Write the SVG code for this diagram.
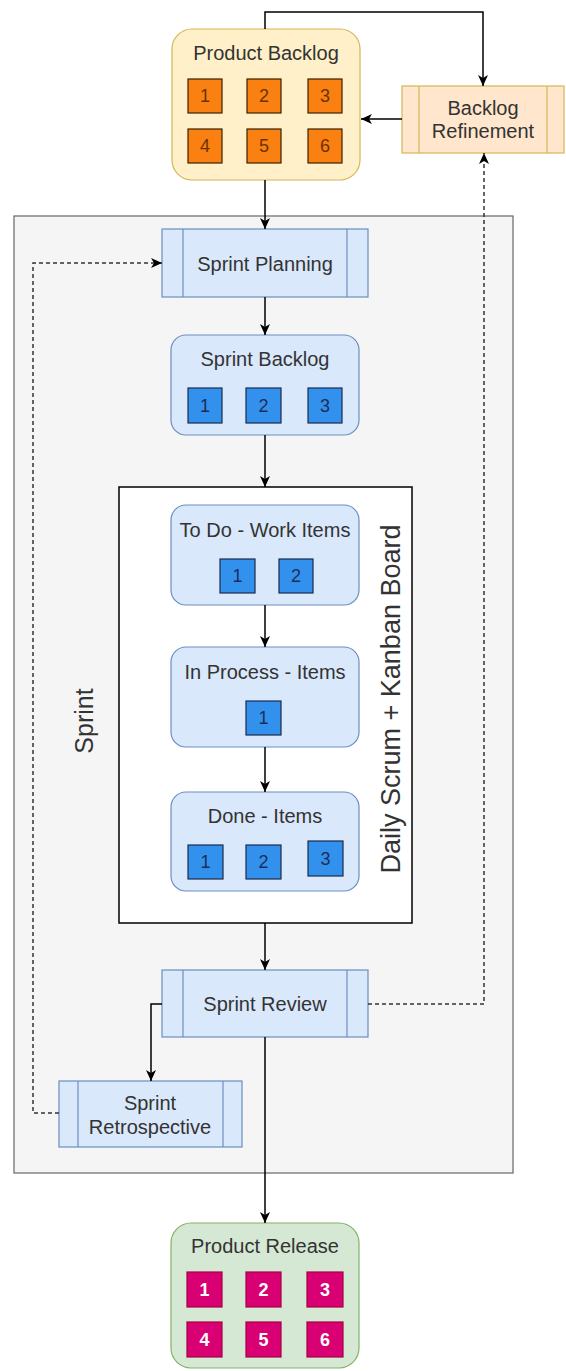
<svg xmlns="http://www.w3.org/2000/svg" width="566" height="1371" viewBox="0 0 566 1371">
<style>
text{font-family:"Liberation Sans",Arial,sans-serif;fill:#333;}
.t{font-size:20px;text-anchor:middle;dominant-baseline:central;}
.n{font-size:18px;text-anchor:middle;dominant-baseline:central;}
.blue{fill:#dae8fc;stroke:#6c8ebf;stroke-width:1.2;}
.bq{fill:#3391ee;stroke:#1b2a4a;stroke-width:1.2;}
.bn{fill:#1c2d5a;}
.oq{fill:#fa8011;stroke:#3a2200;stroke-width:1.2;}
.on{fill:#6a3300;}
.mq{fill:#d80073;stroke:#a50040;stroke-width:1.2;}
.mn{fill:#ffffff;font-weight:bold;}
.e{fill:none;stroke:#000;stroke-width:1.5;}
.d{fill:none;stroke:#333;stroke-width:1.5;stroke-dasharray:4 3;}
</style>
<defs>
<marker id="arr" viewBox="0 0 11 10" refX="11" refY="5" markerWidth="11" markerHeight="10" orient="auto" markerUnits="userSpaceOnUse">
<path d="M0,0 L11,5 L0,10 L3,5 Z" fill="#000"/>
</marker>
</defs>

<g id="sprint">
<rect x="14" y="216" width="499" height="957" fill="#f5f5f5" stroke="#666" stroke-width="1.2"/>
<text transform="translate(93,721) rotate(-90)" font-size="25" text-anchor="middle">Sprint</text>
</g>

<g id="board">
<rect x="119" y="487" width="293" height="436" fill="#fff" stroke="#000" stroke-width="1.5"/>
<text transform="translate(400,699) rotate(-90)" font-size="27" text-anchor="middle">Daily Scrum + Kanban Board</text>
</g>

<g id="product-backlog">
<rect x="172" y="29" width="188" height="151" rx="20" fill="#fff0c9" stroke="#d6b656" stroke-width="1.2"/>
<text class="t" x="266" y="53">Product Backlog</text>
<rect class="oq" x="188" y="79" width="34" height="34"/><text class="n on" x="205" y="96">1</text>
<rect class="oq" x="247" y="79" width="34" height="34"/><text class="n on" x="264" y="96">2</text>
<rect class="oq" x="308" y="79" width="34" height="34"/><text class="n on" x="325" y="96">3</text>
<rect class="oq" x="188" y="129" width="34" height="34"/><text class="n on" x="205" y="146">4</text>
<rect class="oq" x="247" y="129" width="34" height="34"/><text class="n on" x="264" y="146">5</text>
<rect class="oq" x="308" y="129" width="34" height="34"/><text class="n on" x="325" y="146">6</text>
</g>

<g id="backlog-refinement">
<rect x="402" y="86" width="162" height="67" fill="#ffe6cc" stroke="#d6b656" stroke-width="1.2"/>
<line x1="419" y1="86" x2="419" y2="153" stroke="#d6b656" stroke-width="1.2"/>
<line x1="547" y1="86" x2="547" y2="153" stroke="#d6b656" stroke-width="1.2"/>
<text class="t" x="483" y="108">Backlog</text>
<text class="t" x="483" y="131">Refinement</text>
</g>

<g id="sprint-planning">
<rect class="blue" x="162" y="229" width="206" height="68"/>
<line x1="183" y1="229" x2="183" y2="297" stroke="#6c8ebf" stroke-width="1.2"/>
<line x1="347" y1="229" x2="347" y2="297" stroke="#6c8ebf" stroke-width="1.2"/>
<text class="t" x="265" y="264">Sprint Planning</text>
</g>

<g id="sprint-backlog">
<rect class="blue" x="171" y="335" width="188" height="100" rx="15"/>
<text class="t" x="265" y="359">Sprint Backlog</text>
<rect class="bq" x="188" y="388" width="34" height="35"/><text class="n bn" x="205" y="405.5">1</text>
<rect class="bq" x="246" y="388" width="35" height="35"/><text class="n bn" x="263.5" y="405.5">2</text>
<rect class="bq" x="308" y="388" width="34" height="35"/><text class="n bn" x="325" y="405.5">3</text>
</g>

<g id="todo">
<rect class="blue" x="171" y="505" width="188" height="100" rx="15"/>
<text class="t" x="265" y="530">To Do - Work Items</text>
<rect class="bq" x="220" y="559" width="35" height="34"/><text class="n bn" x="237.5" y="576">1</text>
<rect class="bq" x="279" y="559" width="34" height="34"/><text class="n bn" x="296" y="576">2</text>
</g>

<g id="in-process">
<rect class="blue" x="171" y="647" width="188" height="100" rx="15"/>
<text class="t" x="265" y="672">In Process - Items</text>
<rect class="bq" x="246" y="701" width="35" height="34"/><text class="n bn" x="263.5" y="718">1</text>
</g>

<g id="done">
<rect class="blue" x="171" y="792" width="188" height="99" rx="15"/>
<text class="t" x="265" y="815.5">Done - Items</text>
<rect class="bq" x="188" y="845" width="35" height="34"/><text class="n bn" x="205.5" y="862">1</text>
<rect class="bq" x="246" y="845" width="35" height="34"/><text class="n bn" x="263.5" y="862">2</text>
<rect class="bq" x="308" y="841" width="35" height="35"/><text class="n bn" x="325.5" y="858.5">3</text>
</g>

<g id="sprint-review">
<rect class="blue" x="162" y="970" width="206" height="67"/>
<line x1="183" y1="970" x2="183" y2="1037" stroke="#6c8ebf" stroke-width="1.2"/>
<line x1="347" y1="970" x2="347" y2="1037" stroke="#6c8ebf" stroke-width="1.2"/>
<text class="t" x="265" y="1004">Sprint Review</text>
</g>

<g id="sprint-retrospective">
<rect class="blue" x="59" y="1081" width="183" height="66"/>
<line x1="78" y1="1081" x2="78" y2="1147" stroke="#6c8ebf" stroke-width="1.2"/>
<line x1="223" y1="1081" x2="223" y2="1147" stroke="#6c8ebf" stroke-width="1.2"/>
<text class="t" x="150" y="1102.5">Sprint</text>
<text class="t" x="150" y="1126.5">Retrospective</text>
</g>

<g id="product-release">
<rect x="171" y="1223" width="188" height="145" rx="20" fill="#d5e8d4" stroke="#82b366" stroke-width="1.2"/>
<text class="t" x="265" y="1246">Product Release</text>
<rect class="mq" x="187" y="1272" width="35" height="35"/><text class="n mn" x="204.5" y="1289.5">1</text>
<rect class="mq" x="246" y="1272" width="35" height="35"/><text class="n mn" x="263.5" y="1289.5">2</text>
<rect class="mq" x="307" y="1272" width="36" height="35"/><text class="n mn" x="325" y="1289.5">3</text>
<rect class="mq" x="187" y="1322" width="35" height="35"/><text class="n mn" x="204.5" y="1339.5">4</text>
<rect class="mq" x="246" y="1322" width="35" height="35"/><text class="n mn" x="263.5" y="1339.5">5</text>
<rect class="mq" x="307" y="1322" width="36" height="35"/><text class="n mn" x="325" y="1339.5">6</text>
</g>

<g id="connectors">
<path class="e" d="M265,29 V12 H483 V86" marker-end="url(#arr)"/>
<path class="e" d="M402,119 H361" marker-end="url(#arr)"/>
<path class="e" d="M265,180 V229" marker-end="url(#arr)"/>
<path class="e" d="M265,297 V335" marker-end="url(#arr)"/>
<path class="e" d="M265,435 V487" marker-end="url(#arr)"/>
<path class="e" d="M265,605 V647" marker-end="url(#arr)"/>
<path class="e" d="M265,747 V792" marker-end="url(#arr)"/>
<path class="e" d="M265,923 V970" marker-end="url(#arr)"/>
<path class="e" d="M162,1004 H151 V1081" marker-end="url(#arr)"/>
<path class="e" d="M265,1037 V1223" marker-end="url(#arr)"/>
<path class="d" d="M59,1113 H33 V263 H162" marker-end="url(#arr)"/>
<path class="d" d="M368,1004 H484 V153" marker-end="url(#arr)"/>
</g>
</svg>
